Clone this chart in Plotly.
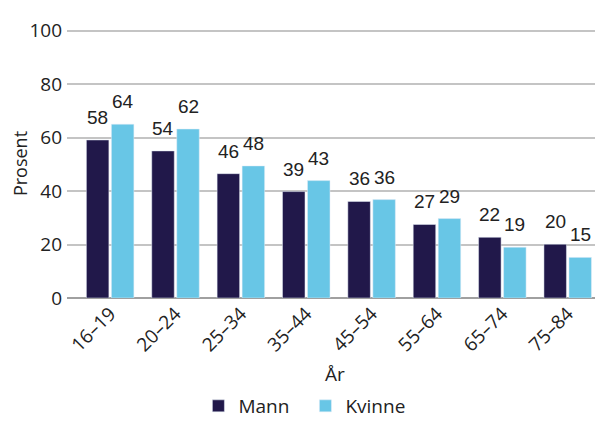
import plotly.graph_objects as go

# Age groups and shares (percent) for men and women
age_groups = ["16–19", "20–24", "25–34", "35–44", "45–54", "55–64", "65–74", "75–84"]
mann_values = [59.1, 55.0, 46.5, 39.8, 36.1, 27.5, 22.7, 20.1]
kvinne_values = [65.0, 63.2, 49.4, 43.9, 36.8, 29.7, 19.0, 15.2]
mann_labels = ["58", "54", "46", "39", "36", "27", "22", "20"]
kvinne_labels = ["64", "62", "48", "43", "36", "29", "19", "15"]
y_ticks = [0, 20, 40, 60, 80, 100]

FONT = "Open Sans, Noto Sans, sans-serif"
LABEL_FONT = "Liberation Sans, Arial, sans-serif"
TEXT_COLOR = "#222222"

fig = go.Figure()
fig.add_trace(go.Bar(x=age_groups, y=mann_values, name="Mann", marker_color="#21184a"))
fig.add_trace(go.Bar(x=age_groups, y=kvinne_values, name="Kvinne", marker_color="#68c6e6"))

# value labels above each bar (shifted to the bar's slot inside the group)
for labels, values, shift in [(mann_labels, mann_values, -12.5), (kvinne_labels, kvinne_values, 12.5)]:
    for cat, val, lab in zip(age_groups, values, labels):
        fig.add_annotation(
            x=cat, y=val, text=lab, showarrow=False,
            xshift=shift, yshift=10, yanchor="bottom",
            font=dict(size=19, color=TEXT_COLOR, family=LABEL_FONT),
        )

# the page has an 8px body margin, so the figure is 8px smaller than the window
fig.update_layout(
    width=595, height=417,
    margin=dict(l=59, r=0, t=21, b=127),
    paper_bgcolor="white", plot_bgcolor="white",
    font=dict(family=FONT, size=19, color=TEXT_COLOR),
    barmode="group", bargap=0.235, bargroupgap=0.1,
    showlegend=True,
    legend=dict(orientation="h", xref="container", yref="container",
                x=0.32, xanchor="left", y=-0.012, yanchor="bottom",
                font=dict(size=19), itemwidth=30, entrywidth=62),
)
fig.update_xaxes(
    range=[-0.66, 7.54], tickangle=-45, showgrid=False, automargin=False,
    ticks="", tickfont=dict(size=19),
    title=dict(text="År", font=dict(size=19), standoff=29),
)
fig.update_yaxes(
    range=[0, 100.6], tickvals=y_ticks, showgrid=True, gridcolor="#c4c4c4", gridwidth=1.5,
    zeroline=True, zerolinecolor="#a0a0a0", zerolinewidth=2, automargin=False,
    ticks="", ticklabelstandoff=4, tickfont=dict(size=19),
    title=dict(text="Prosent", font=dict(size=18), standoff=4),
)

fig.write_html("out.html")
